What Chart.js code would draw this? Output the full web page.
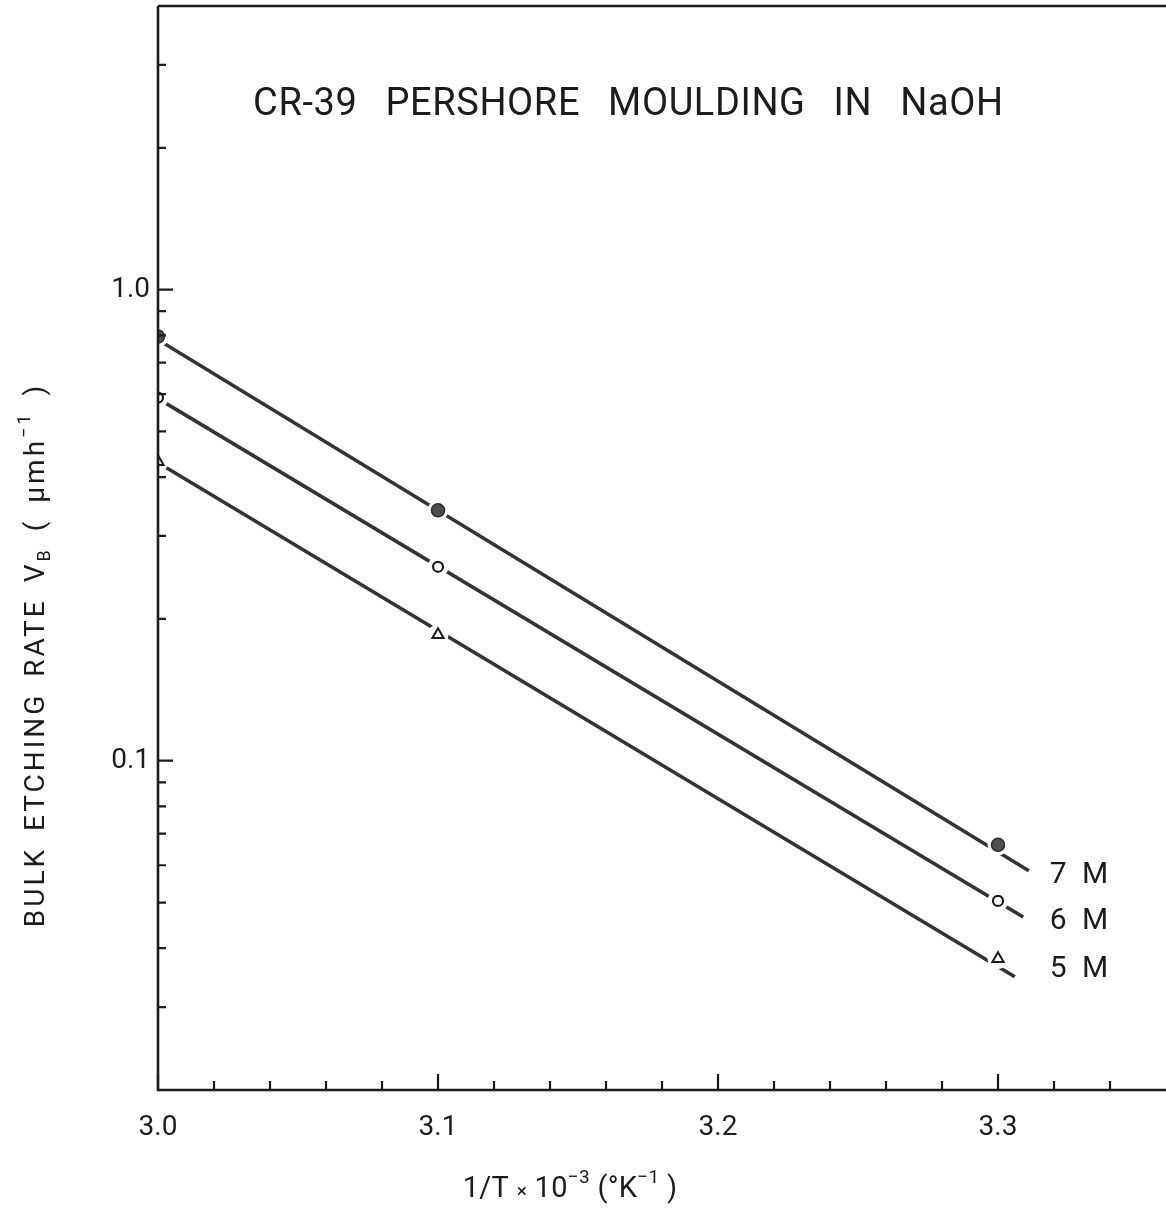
<!DOCTYPE html>
<html>
<head>
<meta charset="utf-8">
<script src="https://cdn.jsdelivr.net/npm/chart.js@4/dist/chart.umd.min.js"></script>
<style>
  html, body { margin: 0; padding: 0; background: #ffffff; }
  #wrap { width: 1166px; height: 1211px; position: relative; }
</style>
</head>
<body>
<div id="wrap"><canvas id="c" width="1166" height="1211"></canvas></div>
<script>
// ---------- data ----------
const invT = [3.0, 3.1, 3.3];                 // 1/T x 10^-3 (K^-1)
const rate7M = [0.795, 0.340, 0.0663];         // measured points, 7 M
const rate6M = [0.590, 0.258, 0.0504];         // measured points, 6 M
const rate5M = [0.431, 0.185, 0.0380];         // measured points, 5 M
const fitX7M = [3.0, 3.311];                   // fitted straight lines
const fit7M  = [0.783, 0.0584];
const fitX6M = [3.0, 3.309];
const fit6M  = [0.587, 0.0466];
const fitX5M = [3.0, 3.306];
const fit5M  = [0.429, 0.0348];
const seriesNames = ['7 M', '6 M', '5 M'];
const seriesLabelAt = [0.057, 0.0455, 0.036];  // rate value where each name sits
const xTickValues = [3.0, 3.02, 3.04, 3.06, 3.08, 3.1, 3.12, 3.14, 3.16, 3.18, 3.2, 3.22, 3.24, 3.26, 3.28, 3.3, 3.32, 3.34];
const xTickLabels = ['3.0', '', '', '', '', '3.1', '', '', '', '', '3.2', '', '', '', '', '3.3', '', ''];
const yTickValues = [0.02, 0.03, 0.04, 0.05, 0.06, 0.07, 0.08, 0.09, 0.1, 0.2, 0.3, 0.4, 0.5, 0.6, 0.7, 0.8, 0.9, 1.0, 2.0, 3.0];
const yTickLabels = ['', '', '', '', '', '', '', '', '0.1', '', '', '', '', '', '', '', '', '1.0', '', ''];
const titleText = 'CR-39 PERSHORE MOULDING IN NaOH';

// ---------- helpers ----------
const pts = (xs, ys) => xs.map((x, i) => ({ x: x, y: ys[i] }));
const INK = '#1c1c1c';
const LINE = '#333333';
const FONT = 'Roboto, "Liberation Sans", sans-serif';

function lineSet(xs, ys) {
  return { type: 'line', data: pts(xs, ys), borderColor: LINE, borderWidth: 3.6,
           pointRadius: 0, fill: false, tension: 0, order: 3 };
}
function haloSet(ys) {
  return { type: 'scatter', data: pts(invT, ys), pointRadius: 10.5, pointStyle: 'circle',
           pointBackgroundColor: '#ffffff', pointBorderColor: '#ffffff', pointBorderWidth: 0, order: 2 };
}

// draws a run of text pieces, with sup/sub parts
function drawRich(ctx, parts, x, y, size, align, spacing, wspacing) {
  const small = Math.round(size * 0.66);
  let total = 0;
  ctx.letterSpacing = (spacing || 0) + 'px';
  ctx.wordSpacing = (wspacing || 0) + 'px';
  parts.forEach(p => {
    ctx.font = (p.s ? small : size) + 'px ' + FONT;
    p.w = ctx.measureText(p.t).width;
    total += p.w;
  });
  let cx = align === 'center' ? x - total / 2 : x;
  parts.forEach(p => {
    ctx.font = (p.s ? small : size) + 'px ' + FONT;
    let dy = 0;
    if (p.s === 'sup') dy = -size * 0.5;
    if (p.s === 'sub') dy = size * 0.22;
    ctx.fillText(p.t, cx, y + dy);
    cx += p.w;
  });
  ctx.letterSpacing = '0px';
  ctx.wordSpacing = '0px';
}

const decor = {
  id: 'decor',
  afterDraw(chart) {
    const { ctx, chartArea: a, scales: { x, y } } = chart;
    ctx.save();
    // frame
    ctx.strokeStyle = INK;
    ctx.lineWidth = 2.6;
    ctx.beginPath();
    ctx.moveTo(a.left, a.top); ctx.lineTo(a.left, a.bottom); ctx.lineTo(a.right, a.bottom);
    ctx.moveTo(a.left, a.top); ctx.lineTo(a.right, a.top);
    ctx.stroke();
    // inward tick marks
    ctx.lineWidth = 2.2;
    ctx.beginPath();
    xTickValues.forEach((v, i) => {
      const px = x.getPixelForValue(v);
      const len = xTickLabels[i] ? 16 : 9;
      ctx.moveTo(px, a.bottom); ctx.lineTo(px, a.bottom - len);
    });
    yTickValues.forEach((v, i) => {
      const py = y.getPixelForValue(v);
      const len = yTickLabels[i] ? 15 : 8;
      ctx.moveTo(a.left, py); ctx.lineTo(a.left + len, py);
    });
    ctx.stroke();
    // title inside the plot
    ctx.fillStyle = INK;
    ctx.textBaseline = 'alphabetic';
    ctx.textAlign = 'left';
    drawRich(ctx, [{ t: titleText }], x.getPixelForValue(3.168), y.getPixelForValue(2.35), 38, 'center', 0.6, 18);
    // series names
    ctx.textBaseline = 'middle';
    seriesNames.forEach((n, i) => {
      drawRich(ctx, [{ t: n }], x.getPixelForValue(3.3185), y.getPixelForValue(seriesLabelAt[i]), 30, 'left', 0, 8);
    });
    // x axis title
    ctx.textBaseline = 'alphabetic';
    drawRich(ctx, [
      { t: '1/T ' }, { t: '\u00d7', s: 'x' }, { t: ' 10' }, { t: '\u22123', s: 'sup' },
      { t: ' (\u00b0K' }, { t: '\u22121', s: 'sup' }, { t: ' )' }
    ], 570, 1197, 29, 'center', 0.3, 0);
    // y axis title (rotated)
    ctx.translate(44, 655);
    ctx.rotate(-Math.PI / 2);
    drawRich(ctx, [
      { t: 'BULK ETCHING RATE V' }, { t: 'B', s: 'sub' }, { t: ' ( \u03bcmh' },
      { t: '\u22121', s: 'sup' }, { t: ' )' }
    ], 0, 0, 28, 'center', 3, 6);
    ctx.restore();
  }
};

new Chart(document.getElementById('c'), {
  data: {
    datasets: [
      lineSet(fitX7M, fit7M), lineSet(fitX6M, fit6M), lineSet(fitX5M, fit5M),
      haloSet(rate7M), haloSet(rate6M), haloSet(rate5M),
      { type: 'scatter', data: pts(invT, rate7M), pointStyle: 'circle', pointRadius: 6.5,
        pointBackgroundColor: '#505050', pointBorderColor: '#2a2a2a', pointBorderWidth: 1.5, order: 1 },
      { type: 'scatter', data: pts(invT, rate6M), pointStyle: 'circle', pointRadius: 5,
        pointBackgroundColor: '#ffffff', pointBorderColor: '#1c1c1c', pointBorderWidth: 2.2, order: 1 },
      { type: 'scatter', data: pts(invT, rate5M), pointStyle: 'triangle', pointRadius: 6.5,
        pointBackgroundColor: '#ffffff', pointBorderColor: '#1c1c1c', pointBorderWidth: 2, order: 1 }
    ]
  },
  options: {
    responsive: false,
    animation: false,
    events: [],
    layout: { autoPadding: false, padding: { top: 6, left: 0, right: 0, bottom: 0 } },
    plugins: { legend: { display: false }, title: { display: false }, tooltip: { enabled: false } },
    scales: {
      x: {
        type: 'linear', position: 'bottom', min: 3.0, max: 3.36,
        afterBuildTicks: s => { s.ticks = xTickValues.map(v => ({ value: v })); },
        afterFit: s => { s.height = 121; s.paddingLeft = 0; s.paddingRight = 0; },
        grid: { display: false, drawTicks: false },
        border: { display: false },
        ticks: {
          autoSkip: false, maxRotation: 0, padding: 21, color: INK,
          font: { family: FONT, size: 28 },
          callback: (v, i) => xTickLabels[i]
        }
      },
      y: {
        type: 'logarithmic', position: 'left', min: 0.02, max: 4,
        afterBuildTicks: s => { s.ticks = yTickValues.map(v => ({ value: v })); },
        afterFit: s => { s.width = 158; s.paddingTop = 0; s.paddingBottom = 0; },
        grid: { display: false, drawTicks: false },
        border: { display: false },
        ticks: {
          autoSkip: false, padding: 8, color: INK,
          font: { family: FONT, size: 28 },
          callback: (v, i) => yTickLabels[i]
        }
      }
    }
  },
  plugins: [decor]
});
</script>
</body>
</html>
